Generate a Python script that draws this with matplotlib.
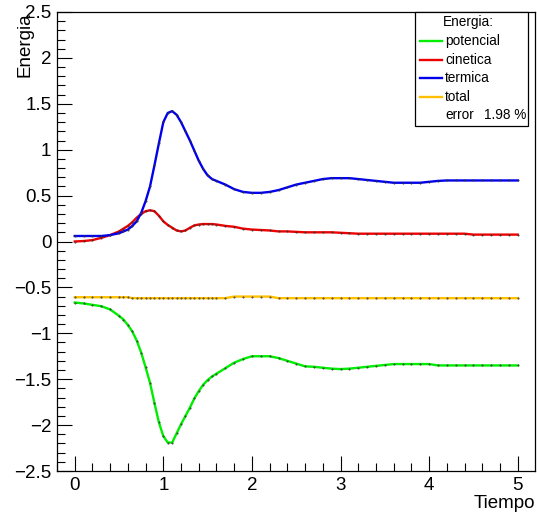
import matplotlib
matplotlib.use('Agg')
import matplotlib.pyplot as plt
import numpy as np
from matplotlib.ticker import MultipleLocator

plt.rcParams['font.family'] = ['Liberation Sans', 'DejaVu Sans']

tiempo = ([0.0, 0.1, 0.2, 0.3, 0.4]
          + [0.5, 0.55, 0.6, 0.65, 0.7, 0.75, 0.8, 0.85, 0.9, 0.95,
             1.0, 1.05, 1.1, 1.15, 1.2, 1.25, 1.3, 1.35, 1.4, 1.45,
             1.5, 1.55, 1.6]
          + [1.7, 1.8, 1.9, 2.0, 2.1, 2.2, 2.3, 2.4, 2.5, 2.6,
             2.7, 2.8, 2.9, 3.0, 3.1, 3.2, 3.3, 3.4, 3.5, 3.6,
             3.7, 3.8, 3.9, 4.0, 4.1, 4.2, 4.3, 4.4, 4.5, 4.6,
             4.7, 4.8, 4.9, 5.0])

potencial = ([-0.665, -0.675, -0.69, -0.705, -0.74]
             + [-0.81, -0.85, -0.91, -0.98, -1.08, -1.21, -1.37, -1.54, -1.76, -1.97,
                -2.12, -2.19, -2.19, -2.09, -1.99, -1.90, -1.81, -1.71, -1.63, -1.56,
                -1.51, -1.47, -1.44]
             + [-1.38, -1.32, -1.28, -1.25, -1.25, -1.25, -1.27, -1.30, -1.33, -1.36,
                -1.365, -1.375, -1.385, -1.39, -1.385, -1.375, -1.365, -1.355, -1.345, -1.335,
                -1.335, -1.335, -1.335, -1.335, -1.35, -1.35, -1.35, -1.35, -1.35, -1.35,
                -1.35, -1.35, -1.35, -1.35])

cinetica = ([0.0, 0.005, 0.015, 0.04, 0.07]
            + [0.11, 0.14, 0.17, 0.21, 0.26, 0.30, 0.33, 0.34, 0.33, 0.28,
               0.22, 0.18, 0.15, 0.12, 0.11, 0.12, 0.15, 0.175, 0.185, 0.19,
               0.19, 0.19, 0.185]
            + [0.17, 0.16, 0.14, 0.13, 0.125, 0.12, 0.11, 0.11, 0.105, 0.10,
               0.10, 0.10, 0.10, 0.095, 0.09, 0.085, 0.085, 0.085, 0.085, 0.085,
               0.085, 0.085, 0.085, 0.085, 0.085, 0.085, 0.085, 0.085, 0.075, 0.075,
               0.075, 0.075, 0.075, 0.075])

termica = ([0.06, 0.06, 0.06, 0.06, 0.07]
           + [0.09, 0.11, 0.13, 0.17, 0.22, 0.31, 0.44, 0.60, 0.83, 1.07,
              1.30, 1.40, 1.42, 1.38, 1.30, 1.20, 1.10, 0.99, 0.88, 0.79,
              0.72, 0.68, 0.66]
           + [0.62, 0.57, 0.54, 0.53, 0.53, 0.54, 0.56, 0.59, 0.62, 0.64,
              0.66, 0.68, 0.69, 0.69, 0.69, 0.68, 0.67, 0.66, 0.65, 0.64,
              0.64, 0.64, 0.64, 0.65, 0.66, 0.665, 0.665, 0.665, 0.665, 0.665,
              0.665, 0.665, 0.665, 0.665])

total = [-0.607] * 8 + [-0.617] * 21 + [-0.600] * 5 + [-0.617] * 28

series = [
    ('potencial', potencial, '#00ee00'),
    ('cinetica', cinetica, '#ee0000'),
    ('termica', termica, '#0000ee'),
    ('total', total, '#ffc000'),
]

fig = plt.figure(figsize=(5.37, 5.13), dpi=100)
ax = fig.add_axes([57 / 537, 1 - 471 / 513, 478 / 537, 459 / 513])

for name, vals, col in series:
    ax.plot(tiempo, vals, color=col, lw=1.7, marker='.', ms=0.9,
            mec='#333333', mfc='#333333')

ax.set_xlim(-0.2, 5.195)
ax.set_ylim(-2.5, 2.5)
ax.xaxis.set_major_locator(MultipleLocator(1))
ax.xaxis.set_minor_locator(MultipleLocator(0.2))
ax.yaxis.set_minor_locator(MultipleLocator(0.1))
ax.set_yticks(np.arange(-2.5, 2.51, 0.5))
ax.set_yticklabels(['−2.5', '−2', '−1.5', '−1', '−0.5', '0', '0.5', '1', '1.5', '2', '2.5'])
ax.tick_params(which='both', direction='in', top=False, right=False,
               labelsize=13.5, width=0.8)
ax.tick_params(which='major', length=11, pad=4)
ax.tick_params(which='minor', length=5.5)
for s in ax.spines.values():
    s.set_linewidth(0.9)

ax.set_xlabel('Tiempo', fontsize=13.5, loc='right', labelpad=1)
ax.set_ylabel('Energia', fontsize=13.5, loc='top')
ax.yaxis.set_label_coords(-0.05, 1.0)

# legend box
tr = ax.transAxes
ax.add_patch(plt.Rectangle((0.749, 0.752), 0.236, 0.248, transform=tr,
                           facecolor='white', edgecolor='black', lw=0.9,
                           zorder=5, clip_on=False))


def fy(py):
    return (471 - py) / 459


def fx(px):
    return (px - 57) / 478


ax.text(fx(443), fy(22), 'Energia:', transform=tr, fontsize=9.8,
        va='center', ha='left', zorder=6)
for i, (name, vals, col) in enumerate(series):
    yy = fy(41 + 18.6 * i)
    ax.plot([fx(420), fx(442)], [yy, yy], transform=tr, color=col, lw=1.7,
            zorder=6, clip_on=False)
    ax.text(fx(445), yy, name, transform=tr, fontsize=9.8, va='center',
            ha='left', zorder=6)
ax.text(fx(445), fy(115), 'error', transform=tr, fontsize=9.8,
        va='center', ha='left', zorder=6)
ax.text(fx(526), fy(115), '1.98 %', transform=tr, fontsize=9.8,
        va='center', ha='right', zorder=6)

fig.savefig('out.png', dpi=100)
